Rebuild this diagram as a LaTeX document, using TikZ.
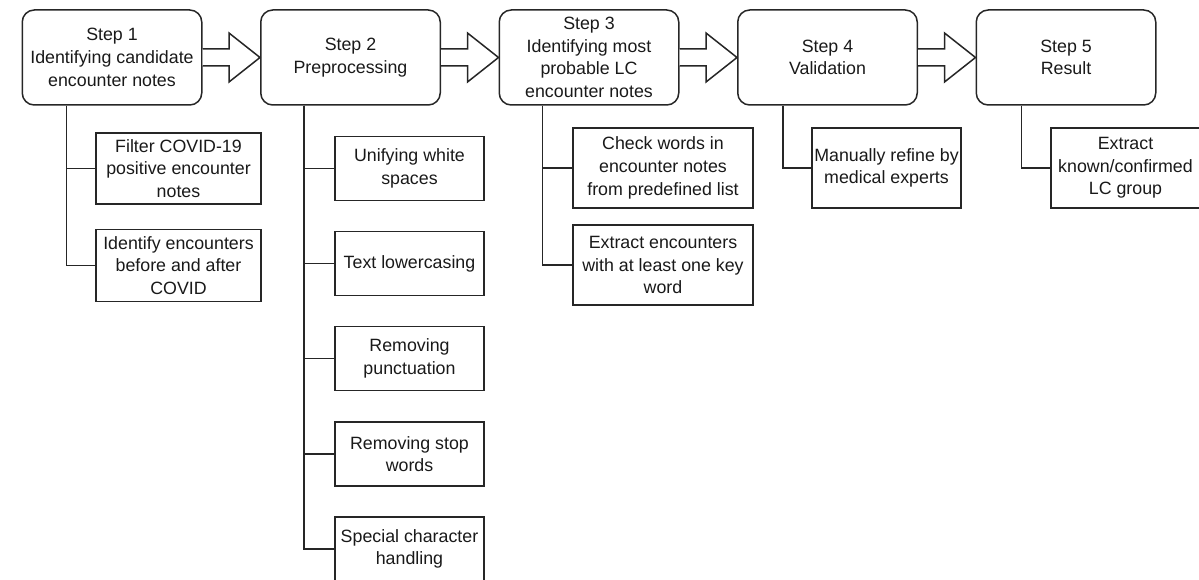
\documentclass[tikz,border=0pt]{standalone}
\usepackage{fontspec}
\setmainfont{Liberation Sans}
\usetikzlibrary{calc}
\begin{document}
\begin{tikzpicture}[x=1pt,y=-1pt,
  txt/.style={font=\fontsize{17.8}{22.7}\selectfont, align=center, text=black!90},
  stepbox/.style={txt, draw=black!85, line width=1.5pt, rounded corners=12pt, minimum width=179.5pt, minimum height=95pt, inner sep=0pt},
  subbox/.style={txt, draw=black!85, line width=1.5pt, inner sep=0pt},
  conn/.style={draw=black!85, line width=1.5pt},
  blockarrow/.style={draw=black!85, line width=1.5pt, fill=white, line join=miter}
]
\useasboundingbox (0,0) rectangle (1199,580);

% step boxes
\node[stepbox] (s1) at (112,57.5) {Step 1\\Identifying candidate\\encounter notes};
\node[stepbox] (s2) at (350.5,57.5) {Step 2\\Preprocessing};
\node[stepbox] (s3) at (589,57.5) {Step 3\\Identifying most\\probable LC\\encounter notes};
\node[stepbox] (s4) at (827.5,57.5) {Step 4\\Validation};
\node[stepbox] (s5) at (1066,57.5) {Step 5\\Result};

% block arrows
\foreach \a/\b in {s1/s2,s2/s3,s3/s4,s4/s5}{
  \draw[blockarrow] ($(\a.east)+(0,-8.5)$) -- ($(\b.west)+(-31,-8.5)$) -- ($(\b.west)+(-31,-24.5)$)
     -- (\b.west) -- ($(\b.west)+(-31,24.5)$) -- ($(\b.west)+(-31,8.5)$) -- ($(\a.east)+(0,8.5)$);
}

% sub boxes step 1
\node[subbox, minimum width=165pt, minimum height=71pt] (a1) at (178.5,168.5) {Filter COVID-19\\positive encounter\\notes};
\node[subbox, minimum width=165pt, minimum height=72pt] (a2) at (178.5,265.5) {Identify encounters\\before and after\\COVID};

% sub boxes step 2
\node[subbox, minimum width=149pt, minimum height=64pt] (b1) at (409.5,168.5) {Unifying white\\spaces};
\node[subbox, minimum width=149pt, minimum height=64pt] (b2) at (409.5,263.5) {Text lowercasing};
\node[subbox, minimum width=149pt, minimum height=64pt] (b3) at (409.5,358.7) {Removing\\punctuation};
\node[subbox, minimum width=149pt, minimum height=64pt] (b4) at (409.5,454) {Removing stop\\words};
\node[subbox, minimum width=149pt, minimum height=64pt] (b5) at (409.5,549) {Special character\\handling};

% sub boxes step 3
\node[subbox, minimum width=180pt, minimum height=80pt] (c1) at (663,168) {Check words in\\encounter notes\\from predefined list};
\node[subbox, minimum width=180pt, minimum height=80pt] (c2) at (663,265) {Extract encounters\\with at least one key\\word};

% sub box step 4
\node[subbox, minimum width=149pt, minimum height=80pt] (d1) at (886.5,168) {Manually refine by\\medical experts};

% sub box step 5
\node[subbox, minimum width=149pt, minimum height=80pt] (e1) at (1125.5,168) {Extract\\known/confirmed\\LC group};

% trunk coordinates
\coordinate (t1) at ($(s1.south west)+(45,0)$);
\coordinate (t2) at ($(s2.south west)+(44,0)$);
\coordinate (t3) at ($(s3.south west)+(44,0)$);
\coordinate (t4) at ($(s4.south west)+(46,0)$);
\coordinate (t5) at ($(s5.south west)+(46,0)$);

% connectors
\foreach \n in {a1,a2}{\draw[conn] (t1) |- (\n.west);}
\foreach \n in {b1,b2,b3,b4,b5}{\draw[conn] (t2) |- (\n.west);}
\foreach \n in {c1,c2}{\draw[conn] (t3) |- (\n.west);}
\draw[conn] (t4) |- (d1.west);
\draw[conn] (t5) |- (e1.west);
\end{tikzpicture}
\end{document}
